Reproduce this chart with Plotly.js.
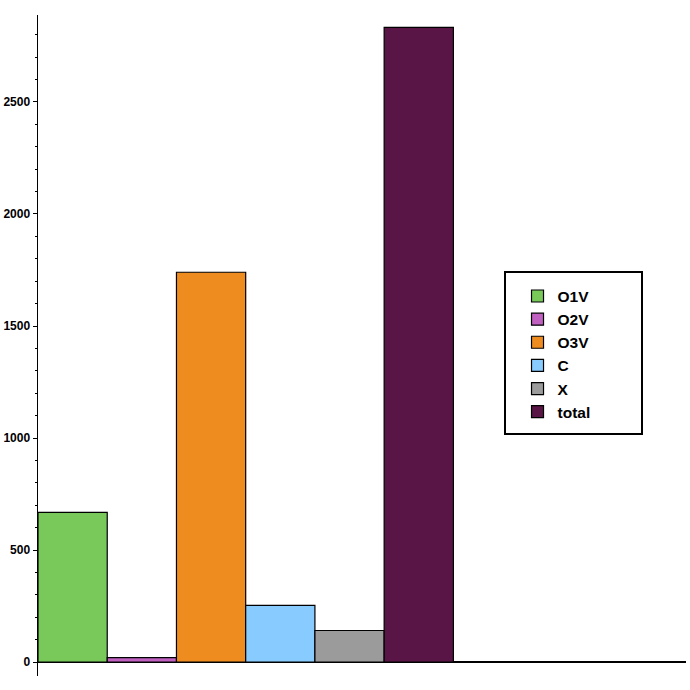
<!DOCTYPE html>
<html>
<head>
<meta charset="utf-8">
<script src="https://cdn.plot.ly/plotly-3.0.1.min.js"></script>
<style>html,body{margin:0;padding:0;background:#fff}</style>
</head>
<body>
<div id="chart" style="width:690px;height:690px"></div>
<script>
// bar data
names = ['O1V', 'O2V', 'O3V', 'C', 'X', 'total'];
values = [668, 20, 1740, 253, 141, 2833];
colors = ['#78c95a', '#c060c0', '#ee8c20', '#88ccff', '#9b9b9b', '#581545'];
yticks = [0, 500, 1000, 1500, 2000, 2500];

var traces = names.map(function (n, i) {
  return {type: 'bar', name: n, x: [i], y: [values[i]], width: 1,
    marker: {color: colors[i], line: {color: '#000', width: 1.2}},
    hoverinfo: 'name+y'};
});

var layout = {
  width: 690, height: 690,
  margin: {l: 38, r: 4, t: 15, b: 14},
  paper_bgcolor: '#fff', plot_bgcolor: '#fff',
  barmode: 'overlay', showlegend: true,
  xaxis: {range: [-0.5, 8.86], showgrid: false, zeroline: false, showline: false,
    showticklabels: false, ticks: '', fixedrange: true},
  yaxis: {range: [-62, 2888], showgrid: false, zeroline: true, zerolinecolor: '#000', zerolinewidth: 1.5,
    showline: true, linecolor: '#000', linewidth: 1.5,
    ticks: 'outside', ticklen: 4, tickwidth: 1, tickcolor: '#000',
    tickvals: yticks, ticktext: yticks.map(String),
    minor: {dtick: 100, ticks: 'outside', ticklen: 2, tickcolor: '#000'},
    tickfont: {family: 'Liberation Sans, Arial', size: 12, color: '#000', weight: 'bold'}},
  legend: {x: 0.74, y: 0.6, xanchor: 'left', yanchor: 'top', bgcolor: 'rgba(0,0,0,0)',
    borderwidth: 0, tracegroupgap: 0, traceorder: 'normal',
    font: {family: 'Liberation Sans, Arial', size: 15.5, color: '#000', weight: 'bold'}},
  shapes: [{type: 'rect', xref: 'paper', yref: 'paper',
    x0: (505 - 38) / 648, x1: (642 - 38) / 648, y0: (676 - 434) / 661, y1: (676 - 272) / 661,
    line: {color: '#000', width: 2}}]
};

Plotly.newPlot('chart', traces, layout, {displayModeBar: false, staticPlot: true});
</script>
</body>
</html>
